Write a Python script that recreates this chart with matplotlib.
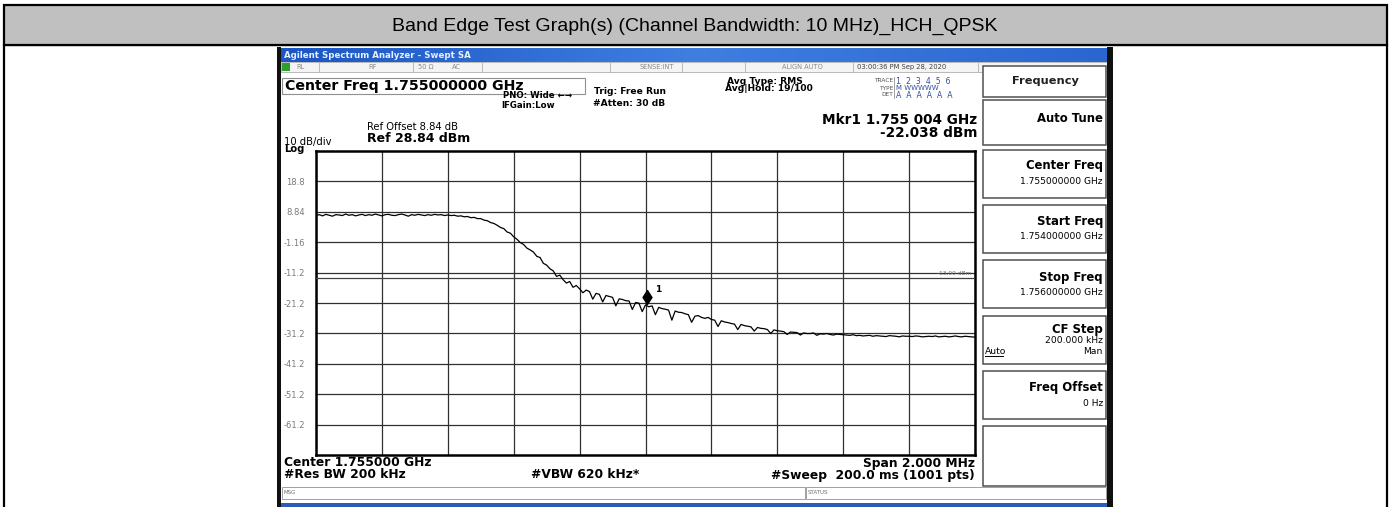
import numpy as np
import matplotlib
matplotlib.use("Agg")
import matplotlib.pyplot as plt
from matplotlib.patches import Rectangle
from matplotlib.path import Path
from matplotlib.colors import LinearSegmentedColormap
import matplotlib.transforms as mtransforms

plt.rcParams['font.family'] = ['DejaVu Sans']

# ---------------- data ----------------
title = "Band Edge Test Graph(s) (Channel Bandwidth: 10 MHz)_HCH_QPSK"
start_ghz = 1.754
stop_ghz = 1.756
ref_level_dbm = 28.84
db_per_div = 10
y_tick_labels = ["18.8", "8.84", "-1.16", "-11.2", "-21.2", "-31.2", "-41.2", "-51.2", "-61.2"]
trace_dbm = [
    7.6, 7.9, 7.5, 8.0, 7.7, 7.4, 7.9, 7.8, 7.6, 8.1, 7.7, 7.9, 7.5, 7.8, 8.0, 7.6, 7.9, 7.7, 8.1, 7.8,
    7.5, 7.9, 8.0, 7.7, 7.6, 7.9, 8.1, 7.8, 7.4, 7.9, 7.7, 8.0, 7.8, 7.6, 7.9, 7.7, 8.0, 7.8, 7.9, 7.6,
    7.8,
    7.6, 7.7, 7.4, 7.5, 7.2, 7.3, 6.9, 7.0, 6.6, 6.6, 6.1, 5.9, 5.3, 5.0, 4.4, 3.7, 3.3, 2.2, 1.8, 0.6,
    -0.2, -1.3, -1.9, -3.1, -3.7, -4.4, -5.8, -6.2, -8.1, -8.7, -9.9, -10.6, -12.4, -12.0, -13.5, -14.6, -14.1, -16.0, -15.4, -16.5,
    -17.8, -16.9, -17.4, -19.9, -18.0, -18.3, -20.8, -18.7, -19.0, -19.3, -22.1, -19.8, -20.0, -20.4, -20.5, -23.3, -21.0, -21.2, -24.0, -21.8,
    -22.4, -22.1, -25.0, -22.6, -23.0, -23.2, -23.5, -26.8, -23.8, -24.2, -24.3, -24.7, -25.0, -27.5, -25.5, -25.3, -25.9, -26.2, -25.9, -26.6,
    -26.8, -28.9, -27.0, -27.4, -27.6, -27.9, -28.1, -29.9, -28.2, -28.6, -28.8, -29.0, -30.4, -29.2, -29.5, -29.6, -29.9, -31.2, -30.0, -30.3,
    -30.4, -30.6, -31.5, -30.7, -30.8, -30.9, -31.7, -31.0, -31.2, -31.2, -31.0, -31.8, -31.3, -31.4, -31.2, -31.5, -31.7, -31.4, -31.5, -31.6,
    -31.7, -31.8, -31.6, -31.9, -31.8, -32.0, -31.9, -31.8, -32.1, -31.9, -32.0, -32.1, -32.2, -31.9, -32.0, -32.1, -32.3, -32.0, -32.1, -32.1,
    -32.2, -32.0, -32.1, -32.3, -32.2, -32.1, -32.2, -32.0, -32.3, -32.2, -32.1, -32.3, -32.2, -32.0, -32.2, -32.3, -32.1, -32.2, -32.3, -32.4,
]
marker_freq_ghz = 1.755004
marker_dbm = -22.038
display_line_dbm = -13.0

softkeys = [("Center Freq", "1.755000000 GHz"), ("Start Freq", "1.754000000 GHz"),
            ("Stop Freq", "1.756000000 GHz")]

# ---------------- figure ----------------
W, H = 1391, 507
fig = plt.figure(figsize=(W / 100, H / 100), dpi=100)
bg = fig.add_axes([0, 0, 1, 1])
bg.set_xlim(0, W)
bg.set_ylim(H, 0)
bg.axis('off')

def rect(x0, y0, x1, y1, fc='none', ec='none', lw=1.0, z=1):
    bg.add_patch(Rectangle((x0, y0), x1 - x0, y1 - y0, facecolor=fc, edgecolor=ec, lw=lw, zorder=z))

def txt(x, y, s, size=8, ha='left', weight='normal', color='black', family=None, z=5):
    kw = {}
    if family:
        kw['family'] = family
    bg.text(x, y, s, fontsize=size, ha=ha, va='center', weight=weight, color=color, zorder=z, **kw)

# outer table
rect(4, 5, 1387, 45, fc='#c0c0c0', ec='black', lw=1.6)
rect(4, 45, 1387, 520, fc='white', ec='black', lw=1.6, z=0.5)
txt(695, 26, title, size=14, ha='center', family=['Liberation Sans', 'DejaVu Sans'])

# screenshot frame
rect(277, 47, 1113, 507, fc='white', ec='none', z=0.8)
rect(277, 47, 281, 507, fc='#101010', z=2)
rect(1107, 47, 1113, 507, fc='#101010', z=2)
rect(281, 503, 1107, 507, fc='#2a5cb8', z=2)
grad = np.linspace(0, 1, 256).reshape(1, -1)
cm = LinearSegmentedColormap.from_list('tb', ['#1a56c4', '#3f7fe0', '#2a66d0'])
bg.imshow(grad, cmap=cm, extent=(281, 1107, 62, 48), aspect='auto', zorder=1.5)
txt(284, 55, "Agilent Spectrum Analyzer - Swept SA", size=6.2, weight='bold', color='#e8eefc')

# status row
rect(281, 62, 1107, 72, fc='#f4f4f4', ec='#b0b0b0', lw=0.6, z=1.6)
rect(282, 63, 290, 71, fc='#2e9e2e', z=1.7)
for xs in [319, 413, 482, 610, 682, 745, 853, 978]:
    bg.plot([xs, xs], [62.5, 71.5], color='#b0b0b0', lw=0.6, zorder=1.8)
for xs, s in [(296, "RL"), (368, "RF"), (418, "50 Ω"), (452, "AC"), (640, "SENSE:INT"),
              (782, "ALIGN AUTO")]:
    txt(xs, 67, s, size=4.8, color='#8a8a8a')
txt(857, 67, "03:00:36 PM Sep 28, 2020", size=4.9, color='#404040')

# top info area
rect(282, 78, 585, 94, fc='white', ec='#909090', lw=0.8, z=1.6)
txt(285, 86, "Center Freq 1.755000000 GHz", size=10.2, weight='bold')
txt(503, 96, "PNO: Wide \u2190\u2192", size=6.2, weight='bold')
txt(501, 105, "IFGain:Low", size=6.2, weight='bold')
txt(594, 92, "Trig: Free Run", size=6.6, weight='bold')
txt(593, 104, "#Atten: 30 dB", size=6.6, weight='bold')
txt(727, 81, "Avg Type: RMS", size=6.6, weight='bold')
txt(725, 88.5, "Avg|Hold: 19/100", size=6.6, weight='bold')
txt(893, 81, "TRACE", size=4.2, ha='right', color='#505050')
txt(893, 88, "TYPE", size=4.2, ha='right', color='#505050')
txt(893, 95, "DET", size=4.2, ha='right', color='#505050')
txt(896, 81, "1  2  3  4  5  6", size=5.6, color='#3050a0')
txt(896, 88, "M WWWWW", size=5.0, color='#3050a0')
txt(896, 95, "A  A  A  A  A  A", size=5.6, color='#3050a0')
bg.plot([894, 894], [77, 98], color='#909090', lw=0.6, zorder=2)

txt(977, 120, "Mkr1 1.755 004 GHz", size=9.8, weight='bold', ha='right')
txt(977, 133, "-22.038 dBm", size=9.8, weight='bold', ha='right')
txt(367, 127, "Ref Offset 8.84 dB", size=7.2)
txt(367, 138, "Ref 28.84 dBm", size=9.0, weight='bold')
txt(284, 142, "10 dB/div", size=7.2)
txt(284, 149.5, "Log", size=7.2, weight='bold')

# bottom texts
txt(284, 463, "Center 1.755000 GHz", size=8.8, weight='bold')
txt(284, 475, "#Res BW 200 kHz", size=8.8, weight='bold')
txt(531, 475, "#VBW 620 kHz*", size=8.8, weight='bold')
txt(975, 463, "Span 2.000 MHz", size=8.8, weight='bold', ha='right')
txt(975, 475, "#Sweep  200.0 ms (1001 pts)", size=8.8, weight='bold', ha='right')
rect(282, 487, 805, 499, fc='white', ec='#a0a0a0', lw=0.7, z=1.6)
rect(806, 487, 1106, 499, fc='white', ec='#a0a0a0', lw=0.7, z=1.6)
txt(283, 493, "MSG", size=4.0, color='#707070')
txt(808, 493, "STATUS", size=4.0, color='#707070')

# softkey panel
boxes = [(66, 97), (100, 145), (150, 198), (205, 253), (260, 308), (316, 364), (371, 419), (426, 486)]
for (y0, y1) in boxes:
    rect(983, y0, 1106, y1, fc='white', ec='#505050', lw=1.1, z=1.6)
txt(1045, 81, "Frequency", size=8.2, ha='center', weight='bold', color='#202020')
txt(1103, 118, "Auto Tune", size=8.4, ha='right', weight='bold')
for (lab, val), yl in zip(softkeys, [166, 221, 277]):
    txt(1103, yl, lab, size=8.4, ha='right', weight='bold')
    txt(1103, yl + 15.5, val, size=6.6, ha='right')
txt(1103, 329, "CF Step", size=8.4, ha='right', weight='bold')
txt(1103, 340.5, "200.000 kHz", size=6.6, ha='right')
txt(1103, 351.5, "Man", size=6.6, ha='right')
txt(985, 351.5, "Auto", size=6.6)
bg.plot([985, 1003], [356, 356], color='black', lw=0.7, zorder=5)
txt(1103, 388, "Freq Offset", size=8.4, ha='right', weight='bold')
txt(1103, 403.5, "0 Hz", size=6.6, ha='right')

# ---------------- plot area ----------------
px0, px1, py0, py1 = 316, 975, 151, 455
ax = fig.add_axes([px0 / W, 1 - py1 / H, (px1 - px0) / W, (py1 - py0) / H])
ax.set_facecolor('white')
bottom_db = ref_level_dbm - 10 * db_per_div
ax.set_xlim(start_ghz, stop_ghz)
ax.set_ylim(bottom_db, ref_level_dbm)
xt = np.linspace(start_ghz, stop_ghz, 11)
yt = ref_level_dbm - db_per_div * np.arange(1, 10)
ax.set_xticks(xt)
ax.set_xticklabels([])
ax.set_yticks(yt)
ax.set_yticklabels(y_tick_labels, fontsize=6.0, color='#7a7a7a')
ax.tick_params(length=0, pad=8)
ax.grid(True, color='#303030', lw=0.9)
for sp in ax.spines.values():
    sp.set_color('black')
    sp.set_linewidth(1.8)

freq = np.linspace(start_ghz, stop_ghz, len(trace_dbm))
ax.plot(freq, trace_dbm, color='black', lw=0.9, zorder=4)

ax.axhline(display_line_dbm, color='#404040', lw=0.9, zorder=3)
ax.text(stop_ghz - 0.00001, display_line_dbm + 0.6, "-13.00 dBm", fontsize=4.2,
        color='#707070', ha='right', va='bottom')

diamond = Path([(0, 1.25), (0.8, 0), (0, -1.25), (-0.8, 0), (0, 1.25)],
               [Path.MOVETO, Path.LINETO, Path.LINETO, Path.LINETO, Path.CLOSEPOLY])
off = mtransforms.offset_copy(ax.transData, fig=fig, x=0, y=9, units='dots')
ax.plot([marker_freq_ghz], [marker_dbm], marker=diamond, markersize=10, color='black',
        transform=off, zorder=6, clip_on=False)
off2 = mtransforms.offset_copy(ax.transData, fig=fig, x=8, y=16, units='dots')
ax.text(marker_freq_ghz, marker_dbm, "1", fontsize=6.5, weight='bold', transform=off2,
        ha='left', va='center')

fig.savefig("out.png", dpi=100)
